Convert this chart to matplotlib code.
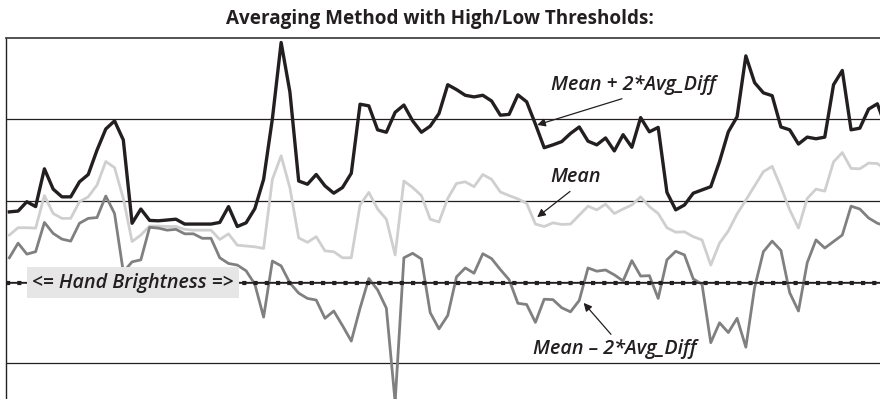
import numpy as np
import matplotlib.pyplot as plt

# brightness samples (one value per frame)
upper = [97.2, 97.4, 99.7, 98.5, 107.8, 102.8, 100.9, 100.9, 104.6, 106.4,
         112.4, 117.6, 119.6, 114.9, 94.4, 97.9, 95.1, 95.0, 95.2, 95.4,
         94.2, 94.2, 94.2, 94.2, 94.6, 98.5, 93.6, 94.5, 98.0, 105.2,
         120.1, 138.9, 126.7, 104.8, 104.0, 106.4, 103.6, 101.8, 103.2, 106.7,
         123.7, 123.3, 117.4, 116.8, 121.7, 123.5, 119.6, 116.8, 118.3, 121.4,
         128.5, 127.3, 125.9, 125.5, 125.9, 124.5, 121.0, 121.2, 126.0, 124.3,
         118.8, 113.0, 113.7, 114.5, 116.5, 118.1, 114.6, 113.7, 115.4, 112.2,
         116.2, 113.1, 120.4, 116.9, 118.0, 102.0, 97.7, 98.9, 101.8, 102.6,
         103.4, 109.6, 116.9, 120.6, 135.6, 129.0, 126.5, 125.8, 118.1, 117.4,
         113.9, 115.6, 115.2, 115.6, 128.5, 132.0, 117.4, 117.8, 122.5, 123.8,
         117.8]
mean = [91.5, 93.3, 93.3, 93.2, 101.2, 96.8, 95.6, 95.6, 99.7, 100.9,
        103.8, 109.6, 108.1, 100.5, 89.9, 91.5, 93.7, 93.7, 93.6, 93.6,
        92.9, 92.7, 92.7, 92.7, 90.4, 91.8, 89.0, 88.8, 88.6, 88.2,
        105.2, 111.0, 103.1, 90.8, 89.7, 91.1, 87.6, 87.4, 85.9, 85.9,
        98.9, 102.0, 97.9, 95.4, 86.6, 104.8, 103.2, 101.2, 95.4, 94.7,
        100.5, 104.2, 104.6, 103.4, 106.4, 105.2, 102.1, 101.2, 100.4, 99.3,
        94.2, 93.6, 94.5, 94.1, 94.2, 96.4, 98.6, 97.7, 99.1, 96.8,
        97.9, 98.9, 100.9, 98.5, 96.8, 93.3, 92.2, 92.3, 91.1, 90.3,
        84.1, 89.5, 92.5, 96.7, 100.1, 103.6, 107.1, 108.4, 103.3, 97.7,
        93.2, 100.5, 102.8, 102.3, 109.5, 111.8, 107.9, 107.8, 109.2, 109.1,
        107.5]
lower = [85.9, 89.5, 86.8, 87.4, 94.6, 91.9, 90.5, 90.0, 94.4, 95.6,
         95.8, 101.1, 96.8, 82.4, 84.9, 85.4, 93.4, 93.2, 92.7, 92.9,
         91.8, 91.8, 90.7, 90.7, 85.9, 84.5, 84.1, 82.7, 79.4, 71.3,
         85.1, 83.9, 79.7, 77.2, 75.9, 75.5, 71.0, 72.8, 69.2, 65.4,
         73.5, 80.8, 78.0, 73.5, 50.4, 85.9, 87.0, 85.6, 72.4, 68.4,
         71.7, 81.2, 83.4, 82.1, 86.9, 85.7, 83.0, 80.5, 74.7, 74.4,
         70.0, 75.7, 75.6, 73.6, 72.6, 75.4, 83.4, 82.6, 82.9, 81.7,
         80.2, 85.2, 81.4, 81.5, 75.9, 85.4, 87.5, 86.6, 80.7, 79.4,
         65.0, 69.9, 67.5, 71.0, 63.9, 78.6, 87.4, 90.0, 87.7, 77.3,
         72.8, 84.7, 90.3, 88.3, 89.9, 91.5, 98.6, 97.9, 95.7, 94.4,
         93.7]
hand_brightness = 79.8

frames = np.arange(len(mean))

plt.rcParams['font.family'] = ['Open Sans', 'DejaVu Sans']
ink = '#231f20'

fig = plt.figure(figsize=(8.8, 3.99), dpi=100)
ax = fig.add_axes([6 / 880, 0, 874 / 880, 361 / 399])

ax.plot(frames, mean, color='#cfcfcf', lw=2.0, zorder=3)
ax.plot(frames, lower, color='#808080', lw=2.0, zorder=3)
ax.plot(frames, upper, color=ink, lw=2.4, zorder=4)

# hand brightness: thin line with square dashes on top
ax.axhline(hand_brightness, color=ink, lw=1.1, zorder=5)
ax.axhline(hand_brightness, color=ink, lw=3.0, linestyle=(0, (1.0, 1.7)), zorder=5)

ax.set_xlim(-0.38, 99.3)
ax.set_ylim(51.14, 140)
ax.set_yticks([60, 80, 100, 120])
ax.set_xticks([])
ax.tick_params(axis='y', length=0, labelleft=False)
ax.grid(axis='y', color=ink, lw=0.9)
ax.set_axisbelow(True)
for side in ['right', 'bottom']:
    ax.spines[side].set_visible(False)
ax.spines['top'].set_color('#444444')
ax.spines['top'].set_linewidth(1.3)
ax.spines['left'].set_color(ink)
ax.spines['left'].set_linewidth(1.0)

label_font = dict(fontsize=14.2, style='italic', fontweight='semibold', color=ink)

ax.text(14.1, hand_brightness, '<= Hand Brightness =>', ha='center', va='center',
        zorder=6, bbox=dict(boxstyle='square,pad=0.27', fc='#e6e6e6', ec='none'),
        **label_font)

arrow = dict(arrowstyle='-|>', color=ink, lw=0.9, mutation_scale=12, shrinkA=2, shrinkB=0)
ax.annotate('Mean + 2*Avg_Diff', xy=(60.2, 118.6), xytext=(71.2, 128.4),
            ha='center', va='center', zorder=6,
            arrowprops=dict(arrow, relpos=(0.5, 0)), **label_font)
ax.annotate('Mean', xy=(60.2, 95.9), xytext=(64.6, 105.8),
            ha='center', va='center', zorder=6,
            arrowprops=dict(arrow, relpos=(0.5, 0)), **label_font)
ax.annotate('Mean \u2013 2*Avg_Diff', xy=(65.5, 74.8), xytext=(69.1, 63.4),
            ha='center', va='center', zorder=6,
            arrowprops=dict(arrow, relpos=(0.5, 1)), **label_font)

fig.text(0.5, 1 - 19 / 399, 'Averaging Method with High/Low Thresholds:',
         ha='center', va='center', fontsize=13.6, fontweight='bold', color=ink)

fig.savefig('out.png', dpi=100)
